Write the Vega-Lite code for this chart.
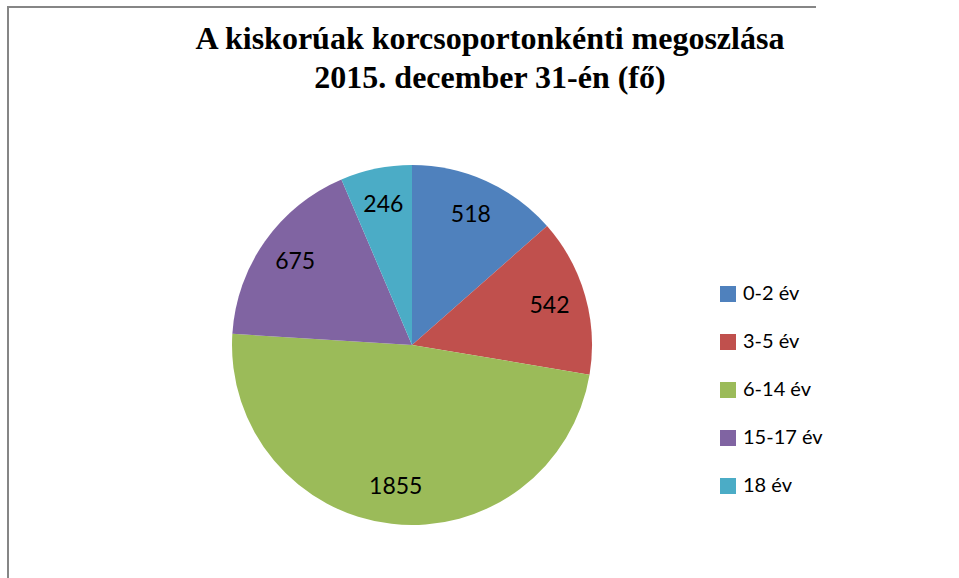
{
  "$schema": "https://vega.github.io/schema/vega-lite/v6.json",
  "width": 808,
  "height": 676,
  "autosize": "none",
  "padding": {"left": 8, "top": 7, "right": 143, "bottom": 0},
  "background": "white",
  "config": {"view": {"stroke": null}},
  "title": {
    "text": ["A kiskorúak korcsoportonkénti megoszlása", "2015. december 31-én (fő)"],
    "font": "Liberation Serif",
    "fontSize": 32,
    "fontWeight": "bold",
    "color": "#000000",
    "lineHeight": 39,
    "anchor": "middle",
    "baseline": "alphabetic",
    "dx": 78,
    "offset": -114
  },
  "datasets": {
    "korcsoportok": [
      {"korcsoport": "0-2 év", "fo": 518, "sorrend": 1},
      {"korcsoport": "3-5 év", "fo": 542, "sorrend": 2},
      {"korcsoport": "6-14 év", "fo": 1855, "sorrend": 3},
      {"korcsoport": "15-17 év", "fo": 675, "sorrend": 4},
      {"korcsoport": "18 év", "fo": 246, "sorrend": 5}
    ],
    "keret": [{"nev": "keret"}]
  },
  "layer": [
    {
      "data": {"name": "keret"},
      "mark": {"type": "rect", "fill": null, "fillOpacity": 0, "stroke": "#868686", "strokeWidth": 2, "strokeDash": [808, 1484, 676]},
      "encoding": {}
    },
    {
      "data": {"name": "korcsoportok"},
      "mark": {"type": "arc", "outerRadius": 180},
      "encoding": {
        "theta": {"field": "fo", "type": "quantitative", "stack": true},
        "order": {"field": "sorrend", "type": "quantitative"},
        "color": {
          "field": "korcsoport",
          "type": "nominal",
          "scale": {
            "domain": ["0-2 év", "3-5 év", "6-14 év", "15-17 év", "18 év"],
            "range": ["#4F81BD", "#C0504D", "#9BBB59", "#8064A2", "#4BACC6"]
          },
          "legend": {
            "title": null,
            "orient": "none",
            "legendX": 710,
            "legendY": 277,
            "symbolType": "square",
            "symbolSize": 256,
            "symbolStrokeWidth": 0,
            "labelFont": "Lato",
            "labelFontSize": 20,
            "labelColor": "#000000",
            "labelOffset": 5,
            "rowPadding": 28
          }
        }
      }
    },
    {
      "data": {"name": "korcsoportok"},
      "mark": {"type": "text", "radius": 143, "font": "Lato", "fontSize": 23, "color": "#000000"},
      "encoding": {
        "theta": {"field": "fo", "type": "quantitative", "stack": true},
        "order": {"field": "sorrend", "type": "quantitative"},
        "text": {"field": "fo", "type": "quantitative"}
      }
    }
  ]
}
